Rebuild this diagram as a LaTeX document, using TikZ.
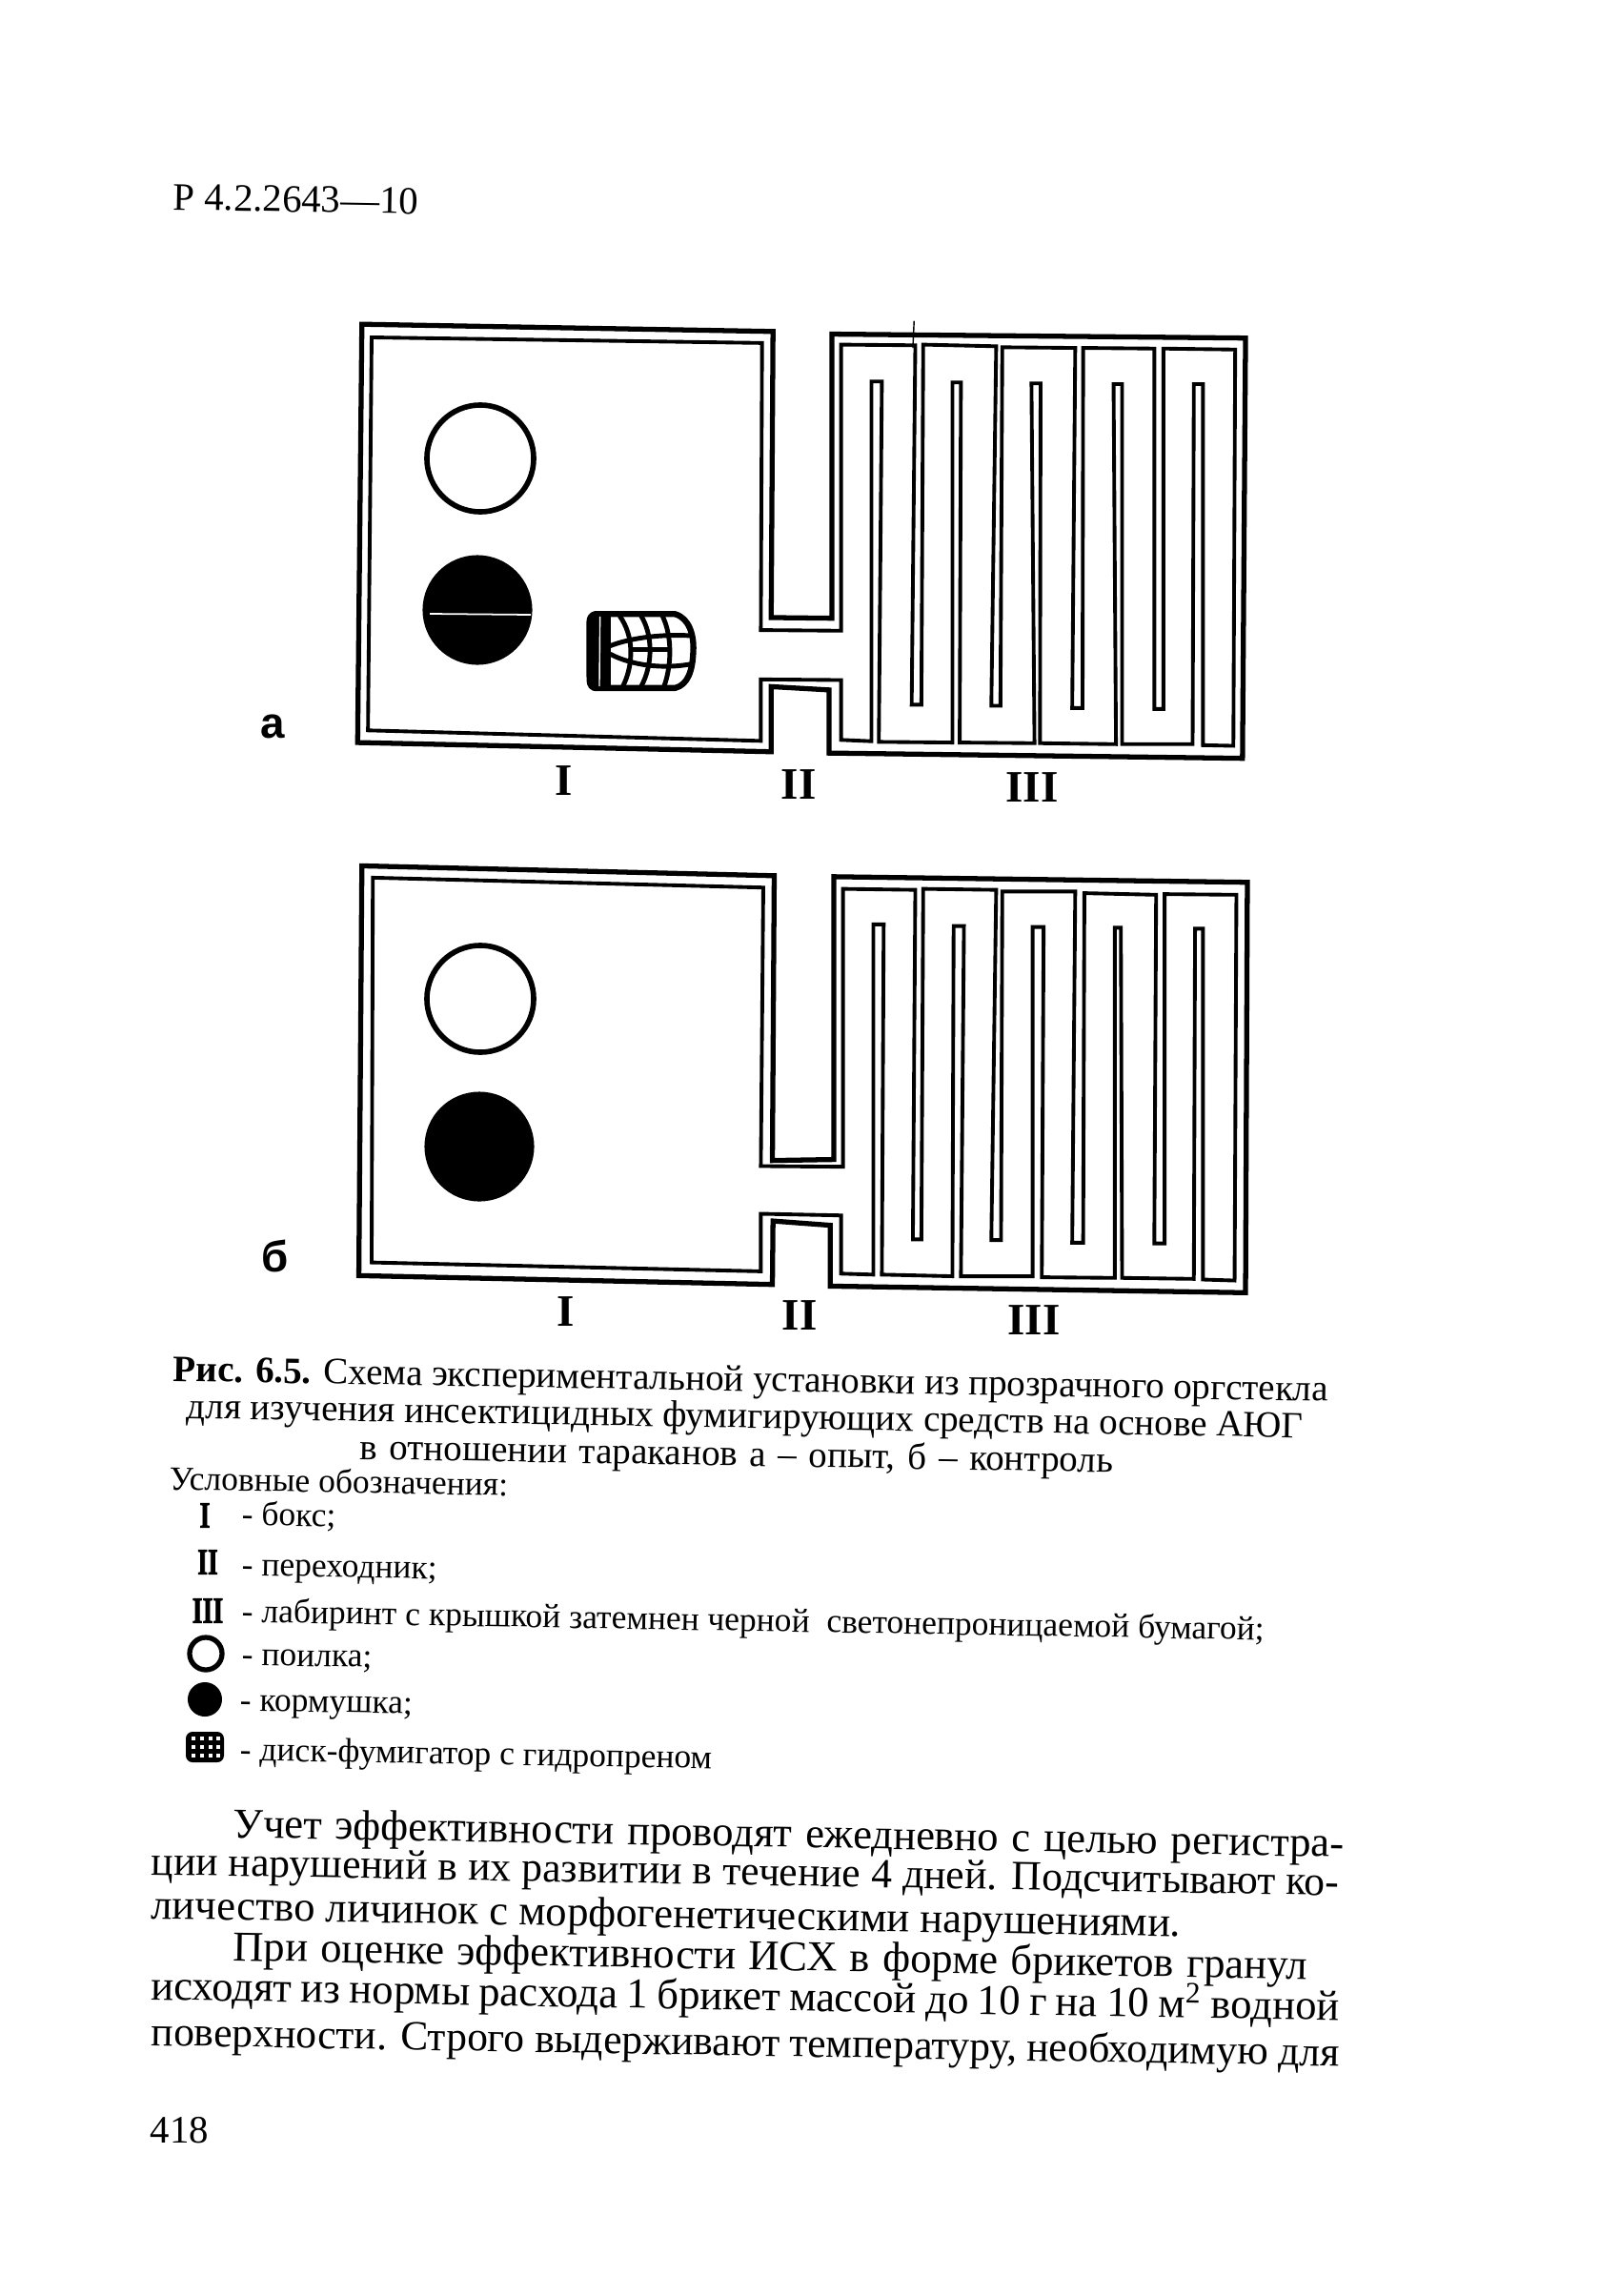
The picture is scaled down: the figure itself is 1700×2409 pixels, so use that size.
\documentclass[tikz,border=0pt]{standalone}
\usepackage{fontspec}
\setmainfont{Liberation Serif}
\newfontfamily\lettersf[BoldFont={Liberation Sans Bold}]{Liberation Sans}
\newfontfamily\blotfont[FakeBold=2.5]{Liberation Serif Bold}
\tikzset{
  printline/.style={anchor=base west,inner sep=0,rotate=-1},
  bodytext/.style={printline,font=\fontsize{12.7}{12.7}\selectfont},
  tightbody/.style={printline,font=\fontsize{12.4}{12.4}\selectfont},
  captext/.style={printline,font=\fontsize{11.1}{11.1}\selectfont},
  keytext/.style={printline,font=\fontsize{10.1}{10.1}\selectfont},
  romanmark/.style={inner sep=0,font=\fontsize{13.4}{13.4}\selectfont\bfseries},
  keymark/.style={inner sep=0,transform shape,xscale=.72,font=\fontsize{11}{11}\selectfont\blotfont},
  platemark/.style={inner sep=0,font=\fontsize{13}{13}\selectfont\lettersf\bfseries},
  drinker/.style={draw,shape=circle,line width=1.6pt,minimum size=1.12cm,inner sep=0},
  feeder/.style={fill,shape=circle,minimum size=1.15cm,inner sep=0},
  keydrinker/.style={draw,shape=circle,line width=1.5pt,minimum size=.34cm,inner sep=0},
  keyfeeder/.style={fill,shape=circle,minimum size=.36cm,inner sep=0},
  wallout/.style={line width=1.5pt,line join=miter},
  wallin/.style={line width=1.1pt,line join=miter},
  diskline/.style={line width=1.4pt},
}
\begin{document}
\begin{tikzpicture}[x=0.01cm,y=-0.01cm]
\useasboundingbox (0,0) rectangle (1700,2409);
\path (181,220) node(head) [printline,font=\fontsize{11.6}{11.6}\selectfont] {Р 4.2.2643—10};
% plate a
\begin{scope}[shift={(3.4cm,-3.2cm)},x=0.006378cm,y=-0.003444cm]
\draw[wallout] (62,58) -- (738,80) -- (735,950) -- (835,952) -- (835,88) -- (1515,100) -- (1510,1378) -- (830,1362) -- (830,1170) -- (735,1160) -- (735,1358) -- (55,1330) -- cycle;
\draw[wallin] (78,98) -- (720,115) -- (718,988) -- (850,990) -- (850,120) -- (972,122) -- (966,1215) -- (982,1215) -- (985,120) -- (1105,125) -- (1097,1218) -- (1112,1218) -- (1115,128) -- (1235,130) -- (1230,1225) -- (1247,1225) -- (1248,130) -- (1365,132) -- (1365,1228) -- (1380,1228) -- (1380,132) -- (1498,135) -- (1495,1340) -- (1445,1338) -- (1445,240) -- (1430,240) -- (1428,1335) -- (1312,1335) -- (1312,240) -- (1298,240) -- (1302,1335) -- (1177,1332) -- (1178,238) -- (1163,238) -- (1168,1332) -- (1045,1330) -- (1047,235) -- (1033,235) -- (1033,1330) -- (912,1328) -- (917,232) -- (900,232) -- (900,1326) -- (850,1322) -- (850,1140) -- (718,1138) -- (718,1325) -- (72,1293) -- cycle;
\draw[line width=0.4pt] (970,48) -- (968,130);
\end{scope}
\path (504,481) node(drink_a) [drinker] {};
\path (501,640) node(feed_a) [feeder] {};
\draw[white,line width=0.5pt] (451,644) -- (557,645);
% fumigator disk, 3 px to the unit of the crop
\begin{scope}[shift={(6cm,-6.2cm)},x=0.003333cm,y=-0.003333cm]
\draw[line width=1.8pt,line join=round] (72,72) -- (325,72) .. controls (370,85) and (385,140) .. (382,190) .. controls (380,250) and (365,295) .. (325,305) -- (70,305) .. controls (55,300) and (55,285) .. (55,270) -- (55,95) .. controls (55,85) and (60,75) .. (72,72) -- cycle;
\fill (58,78) rectangle (122,302);
\draw[white,line width=0.4pt] (88,80) -- (86,300);
\draw[diskline] (150,78) .. controls (195,140) and (195,230) .. (160,300);
\draw[diskline] (218,78) .. controls (255,140) and (255,230) .. (218,300);
\draw[diskline] (285,78) .. controls (315,140) and (315,230) .. (290,300);
\draw[diskline] (120,172) .. controls (190,145) and (290,135) .. (372,140);
\draw[diskline] (120,198) .. controls (190,235) and (290,245) .. (372,230);
\draw[diskline] (185,185) -- (305,185);
\end{scope}
\path (286,762) node(mark_a) [platemark] {а};
\path (592,819) node(box_a) [romanmark] {I};
\path (838,823) node(pass_a) [romanmark] {II};
\path (1083,826) node(maze_a) [romanmark] {III};
% plate b
\begin{scope}[shift={(3.4cm,-8.9cm)},x=0.006378cm,y=-0.003444cm]
\draw[wallout] (62,52) -- (740,82) -- (737,948) -- (838,945) -- (838,85) -- (1518,102) -- (1515,1350) -- (832,1330) -- (832,1145) -- (738,1132) -- (737,1325) -- (57,1298) -- cycle;
\draw[wallin] (80,88) -- (722,118) -- (718,965) -- (853,967) -- (853,122) -- (972,125) -- (968,1188) -- (982,1188) -- (985,122) -- (1105,125) -- (1097,1190) -- (1113,1190) -- (1115,130) -- (1235,130) -- (1230,1198) -- (1248,1198) -- (1250,135) -- (1368,140) -- (1365,1200) -- (1382,1200) -- (1382,138) -- (1500,140) -- (1497,1313) -- (1445,1310) -- (1445,243) -- (1432,243) -- (1430,1308) -- (1312,1305) -- (1310,240) -- (1300,240) -- (1300,1305) -- (1180,1303) -- (1183,238) -- (1165,238) -- (1165,1300) -- (1047,1300) -- (1052,235) -- (1035,235) -- (1033,1300) -- (917,1295) -- (920,230) -- (903,230) -- (903,1295) -- (850,1292) -- (850,1115) -- (718,1110) -- (718,1285) -- (78,1258) -- cycle;
\end{scope}
\path (504,1048) node(drink_b) [drinker] {};
\path (503,1203) node(feed_b) [feeder] {};
\path (289,1318) node(mark_b) [platemark] {б};
\path (594,1376) node(box_b) [romanmark] {I};
\path (839,1380) node(pass_b) [romanmark] {II};
\path (1085,1385) node(maze_b) [romanmark] {III};
% caption
\path (181,1449) node(cap1) [captext] {\textbf{Рис. 6.5.} Схема экспериментальной установки из прозрачного оргстекла};
\path (195,1488) node(cap2) [captext] {для изучения инсектицидных фумигирующих средств на основе АЮГ};
\path (377,1531) node(cap3) [captext] {\makebox[7.9cm][s]{в отношении тараканов а – опыт, б – контроль}};
\path (177,1563) node(key0) [keytext] {Условные обозначения:};
% key
\path (215,1590) node(keyI) [keymark] {I};
\path (253,1600) node(key1) [keytext] {- бокс;};
\path (218,1639) node(keyII) [keymark] {II};
\path (253,1653) node(key2) [keytext] {- переходник;};
\path (218,1690) node(keyIII) [keymark] {III};
\path (253,1702) node(key3) [keytext] {- лабиринт с крышкой затемнен черной \ светонепроницаемой бумагой;};
\path (216,1735) node(keyO) [keydrinker] {};
\path (253,1747) node(key4) [keytext] {- поилка;};
\path (215,1783) node(keyF) [keyfeeder] {};
\path (251,1795) node(key5) [keytext] {- кормушка;};
\fill[rounded corners=2pt] (195,1817) rectangle (235,1849);
\foreach \i in {203,212,221,229} \foreach \j in {1824,1833,1842}
  \fill[white] (\i-2,\j-2) rectangle (\i+2,\j+2);
\path (251,1847) node(key6) [keytext] {- диск-фумигатор с гидропреном};
% text
\path (244,1928) node(text1) [bodytext] {\makebox[11.65cm][s]{Учет эффективности проводят ежедневно с целью регистра-}};
\path (158,1967) node(text2) [tightbody] {\makebox[12.46cm][s]{ции нарушений в их развитии в течение 4 дней. Подсчитывают ко-}};
\path (158,2013) node(text3) [bodytext] {личество личинок с морфогенетическими нарушениями.};
\path (244,2057) node(text4) [bodytext] {\makebox[11.27cm][s]{При оценке эффективности ИСХ в форме брикетов гранул}};
\path (158,2098) node(text5) [bodytext] {\makebox[12.46cm][s]{исходят из нормы расхода 1 брикет массой до 10 г на 10 м\textsuperscript{2} водной}};
\path (158,2146) node(text6) [tightbody] {\makebox[12.46cm][s]{поверхности. Строго выдерживают температуру, необходимую для}};
\path (157,2248) node(folio) [printline,rotate=1,font=\fontsize{11.6}{11.6}\selectfont] {418};
\end{tikzpicture}
\end{document}
